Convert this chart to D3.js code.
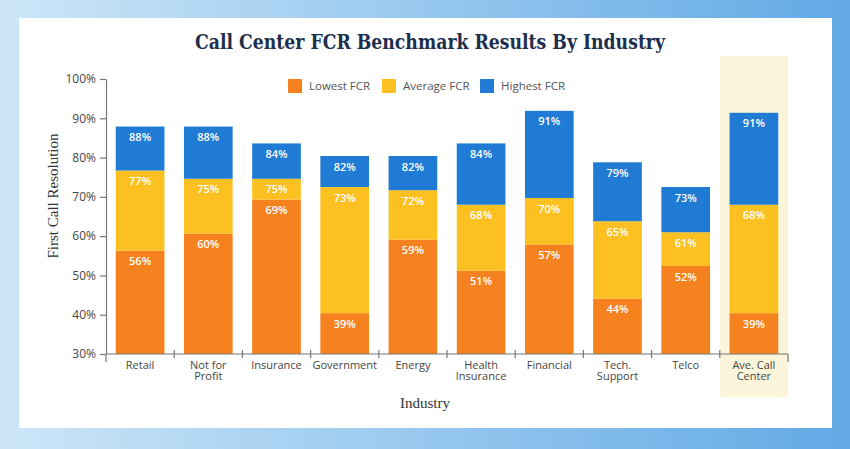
<!DOCTYPE html>
<html>
<head>
<meta charset="utf-8">
<script src="https://cdn.jsdelivr.net/npm/d3@7"></script>
<style>
  html, body { margin: 0; padding: 0; }
  body { width: 850px; height: 449px; overflow: hidden; }
  text { font-family: "Open Sans", "Noto Sans", sans-serif; }
</style>
</head>
<body>
<div id="chart-area"></div>
<script>
'use strict';

// Data
const categories = ['Retail', 'Not for\nProfit', 'Insurance', 'Government', 'Energy',
    'Health\nInsurance', 'Financial', 'Tech.\nSupport', 'Telco', 'Ave. Call\nCenter'];
// bar tops as drawn
const lowest  = [56.3, 60.6, 69.3, 40.4, 59.1, 51.2, 57.9, 44.1, 52.4, 40.4];
const average = [76.7, 74.6, 74.6, 72.5, 71.7, 68.0, 69.7, 63.8, 61.0, 68.0];
const highest = [87.9, 87.9, 83.6, 80.4, 80.4, 83.6, 91.9, 78.8, 72.5, 91.4];
// printed labels
const lowestLabels  = ['56%', '60%', '69%', '39%', '59%', '51%', '57%', '44%', '52%', '39%'];
const averageLabels = ['77%', '75%', '75%', '73%', '72%', '68%', '70%', '65%', '61%', '68%'];
const highestLabels = ['88%', '88%', '84%', '82%', '82%', '84%', '91%', '79%', '73%', '91%'];
const yTicks = [30, 40, 50, 60, 70, 80, 90, 100];
const seriesNames = ['Lowest FCR', 'Average FCR', 'Highest FCR'];
const highlighted = 'Ave. Call\nCenter';

const colors = ['#f5821f', '#fcc021', '#1f7bd4'];

const width = 850, height = 449;

const svg = d3.select('#chart-area')
    .append('svg')
    .attr('width', width)
    .attr('height', height);

// background gradient
const grad = svg.append('defs').append('linearGradient')
    .attr('id', 'bg')
    .attr('x1', '0%').attr('y1', '0%')
    .attr('x2', '100%').attr('y2', '0%');
grad.append('stop').attr('offset', '0%').attr('stop-color', '#cde6f8');
grad.append('stop').attr('offset', '100%').attr('stop-color', '#62a9e5');

svg.append('rect')
    .attr('width', width).attr('height', height)
    .attr('fill', 'url(#bg)');

svg.append('rect')
    .attr('x', 19).attr('y', 18)
    .attr('width', 813).attr('height', 410)
    .attr('fill', '#ffffff');

// Scales
const y = d3.scaleLinear()
    .domain([30, 100])
    .range([354, 79]);

const x = d3.scaleBand()
    .domain(categories)
    .range([106, 788])
    .paddingInner(0.286)
    .paddingOuter(0.143);

// highlight column
svg.append('rect')
    .attr('x', x(highlighted) - x.step() * x.paddingOuter())
    .attr('y', 56)
    .attr('width', x.step())
    .attr('height', 341)
    .attr('fill', '#fbf5db');

// Title
svg.append('text')
    .attr('x', 430)
    .attr('y', 49)
    .attr('text-anchor', 'middle')
    .attr('textLength', 470)
    .attr('lengthAdjust', 'spacingAndGlyphs')
    .style('font-family', '"DejaVu Serif", serif')
    .style('font-stretch', 'condensed')
    .style('font-weight', 'bold')
    .style('font-size', '21px')
    .style('fill', '#1d2f4d')
    .text('Call Center FCR Benchmark Results By Industry');

// Y Axis
const yAxisCall = d3.axisLeft(y)
    .tickValues(yTicks)
    .tickFormat(d => d + '%')
    .tickSize(6)
    .tickSizeOuter(0)
    .tickPadding(4);

const yAxisGroup = svg.append('g')
    .attr('transform', 'translate(' + 106 + ',0)')
    .call(yAxisCall);
yAxisGroup.select('.domain').attr('stroke', '#777').attr('stroke-width', 1.2);
yAxisGroup.selectAll('.tick line').attr('stroke', '#777').attr('stroke-width', 1.2);
yAxisGroup.selectAll('text')
    .style('font-size', '12px')
    .style('fill', '#474747');

// Stacked segments
const segments = [];
categories.forEach((c, i) => {
    segments.push({ cat: c, s: 0, y0: 30, y1: lowest[i], label: lowestLabels[i] });
    segments.push({ cat: c, s: 1, y0: lowest[i], y1: average[i], label: averageLabels[i] });
    segments.push({ cat: c, s: 2, y0: average[i], y1: highest[i], label: highestLabels[i] });
});

svg.append('g')
    .selectAll('rect')
    .data(segments)
    .enter()
    .append('rect')
    .attr('x', d => x(d.cat))
    .attr('y', d => y(d.y1))
    .attr('width', x.bandwidth())
    .attr('height', d => y(d.y0) - y(d.y1))
    .attr('fill', d => colors[d.s]);

svg.append('g')
    .selectAll('text')
    .data(segments)
    .enter()
    .append('text')
    .attr('x', d => x(d.cat) + x.bandwidth() / 2)
    .attr('y', d => y(d.y1) + 14.5)
    .attr('text-anchor', 'middle')
    .style('font-size', '11px')
    .style('font-weight', 600)
    .style('fill', '#ffffff')
    .text(d => d.label);

// X Axis
const xAxisGroup = svg.append('g');
xAxisGroup.append('line')
    .attr('x1', x.range()[0]).attr('x2', x.range()[1])
    .attr('y1', y(30)).attr('y2', y(30))
    .attr('stroke', '#777').attr('stroke-width', 1.2);

const boundaries = d3.range(categories.length + 1).map(i => x.range()[0] + i * x.step());
xAxisGroup.selectAll('.sep')
    .data(boundaries)
    .enter()
    .append('line')
    .attr('class', 'sep')
    .attr('x1', d => d).attr('x2', d => d)
    .attr('y1', (d, i) => (i === 0 || i === categories.length) ? y(30) : y(30) - 4)
    .attr('y2', (d, i) => (i === 0 || i === categories.length) ? y(30) + 8 : y(30) + 4)
    .attr('stroke', '#777').attr('stroke-width', 1.2);

const xLabels = xAxisGroup.selectAll('.xlab')
    .data(categories)
    .enter()
    .append('text')
    .attr('class', 'xlab')
    .attr('text-anchor', 'middle')
    .style('font-size', '11px')
    .style('fill', '#454545');

xLabels.selectAll('tspan')
    .data(d => d.split('\n').map(t => ({ t: t, c: d })))
    .enter()
    .append('tspan')
    .attr('x', d => x(d.c) + x.bandwidth() / 2)
    .attr('y', (d, i) => 369 + i * 11)
    .text(d => d.t);

// Axis titles
svg.append('text')
    .attr('x', 425)
    .attr('y', 408)
    .attr('text-anchor', 'middle')
    .style('font-family', '"Liberation Serif", serif')
    .style('font-size', '15px')
    .style('fill', '#333')
    .text('Industry');

svg.append('text')
    .attr('transform', 'translate(58,196) rotate(-90)')
    .attr('text-anchor', 'middle')
    .style('font-family', '"Liberation Serif", serif')
    .style('font-size', '15px')
    .style('fill', '#333')
    .text('First Call Resolution');

// Legend
const legendX = [288, 382, 480];
const legend = svg.append('g')
    .selectAll('g')
    .data(seriesNames)
    .enter()
    .append('g')
    .attr('transform', (d, i) => 'translate(' + legendX[i] + ',79)');

legend.append('rect')
    .attr('width', 14).attr('height', 14)
    .attr('fill', (d, i) => colors[i]);

legend.append('text')
    .attr('x', 21).attr('y', 11)
    .style('font-size', '11.5px')
    .style('fill', '#555')
    .text(d => d);
</script>
</body>
</html>
